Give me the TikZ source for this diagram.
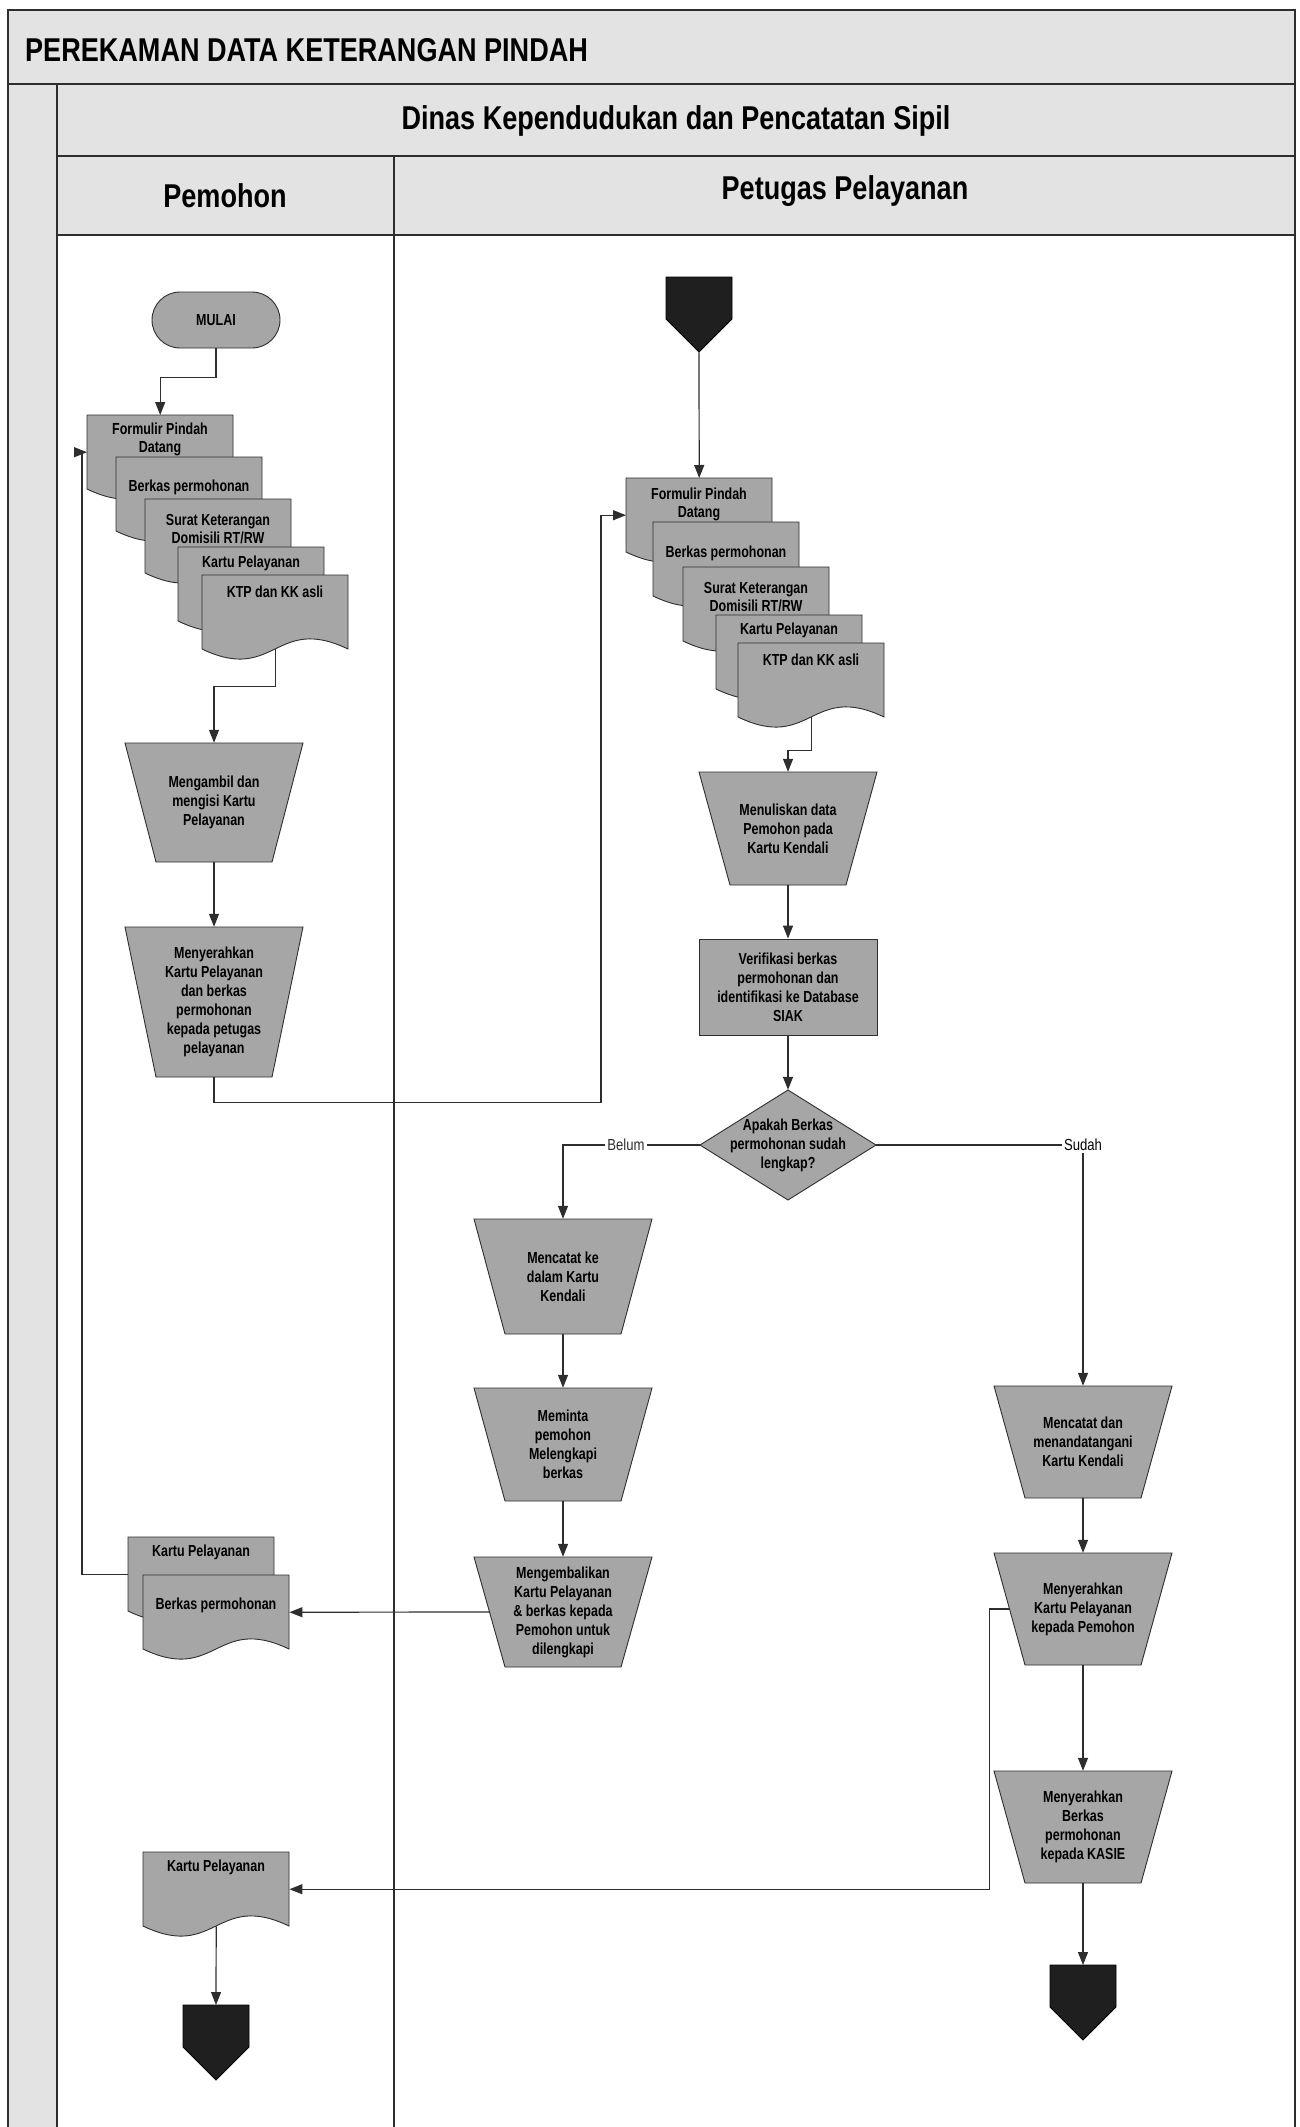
\documentclass[tikz,border=0pt]{standalone}
\usepackage{fontspec}
\setmainfont{Liberation Sans}[FakeStretch=0.82]
\newfontfamily\shpfont{Liberation Sans}[FakeStretch=0.78]
\usetikzlibrary{arrows.meta,calc}
\definecolor{band}{gray}{0.89}
\definecolor{shp}{gray}{0.65}
\definecolor{ln}{gray}{0.18}
\tikzset{
  frameline/.style={line width=2.5pt, draw=ln},
  shapefill/.style={fill=shp, draw=ln, line width=0.9pt},
  darkfill/.style={fill=black!88, draw=black, line width=0.9pt},
  box/.style={inner sep=0pt, align=center, font=\shpfont\fontsize{16}{19}\selectfont\bfseries, text=black},
  docbox/.style={inner sep=0pt, align=center, font=\shpfont\fontsize{16}{18}\selectfont\bfseries, text=black},
  conn/.style={draw=ln, line width=1.2pt},
  arr/.style={conn, -{Triangle[length=13pt,width=10pt]}, ln},
  lbl/.style={font=\fontsize{16}{19}\selectfont, fill=white, inner sep=2pt},
  hdr/.style={font=\fontsize{33}{38}\selectfont\bfseries, inner sep=0pt},
}
\newcommand\trapz[5]{%
  \pgfmathsetmacro\hh{#4-#3}%
  \pgfmathsetmacro\yc{(#3+#4)/2}%
  \path[shapefill] (#2-89,#3) -- (#2+89,#3) -- (#2+58,#4) -- (#2-58,#4) -- cycle;
  \node[box, minimum width=178pt, minimum height=\hh pt] (#1) at (#2,\yc) {#5};
}
\newcommand\docshp[5]{%
  \path[shapefill] (#2,#3) -- (#2+146,#3) -- (#2+146,#3+74) .. controls (#2+73,#3+39) and (#2+73,#3+109) .. (#2,#3+74) -- cycle;
  \node[box, anchor=north west, minimum width=146pt, minimum height=74pt] (#1) at (#2,#3) {};
  \node[docbox] (#1t) at (#2+73,#3+#4) {#5};
}
\newcommand\offpg[3]{%
  \path[darkfill] (#2-33,#3) -- (#2+33,#3) -- (#2+33,#3+42) -- (#2,#3+75) -- (#2-33,#3+42) -- cycle;
  \node[box, anchor=north, minimum width=66pt, minimum height=75pt] (#1) at (#2,#3) {};
}
\begin{document}
\begin{tikzpicture}[x=1pt,y=-1pt]
\useasboundingbox (0,0) rectangle (1300,2127);
% bands
\fill[band] (8,10) rectangle (1295,235);
\fill[band] (8,235) rectangle (57,2127);
\draw[frameline] (8,2127) -- (8,10) -- (1295,10) -- (1295,2127);
\draw[frameline] (8,84) -- (1295,84);
\draw[frameline] (57,156) -- (1295,156);
\draw[frameline] (57,235) -- (1295,235);
\draw[frameline] (57,84) -- (57,2127);
\draw[frameline] (394,156) -- (394,2127);
\node[hdr, anchor=west] (ttl) at (25,50) {PEREKAMAN DATA KETERANGAN PINDAH};
\node[hdr] (dinas) at (676,121) {Dinas Kependudukan dan Pencatatan Sipil};
\node[hdr] (lpem) at (225,196) {Pemohon};
\node[hdr] (lpet) at (845,191) {Petugas Pelayanan};

% ---- Pemohon lane
\node[box, shapefill, rounded corners=28pt, minimum width=128pt, minimum height=56pt] (mulai) at (216,320) {MULAI};
\docshp{ld1}{87}{415}{24}{Formulir Pindah\\Datang}
\docshp{ld2}{116}{457}{30}{Berkas permohonan}
\docshp{ld3}{145}{499}{30}{Surat Keterangan\\Domisili RT/RW}
\docshp{ld4}{178}{547}{16}{Kartu Pelayanan}
\docshp{ld5}{202}{575}{17}{KTP dan KK asli}
\trapz{t1}{214}{743}{862}{Mengambil dan\\mengisi Kartu\\Pelayanan}
\trapz{t2}{214}{927}{1077}{Menyerahkan\\Kartu Pelayanan\\dan berkas\\permohonan\\kepada petugas\\pelayanan}
\docshp{lb1}{128}{1537}{15}{Kartu Pelayanan}
\docshp{lb2}{143}{1575}{30}{Berkas permohonan}
\docshp{lb3}{143}{1852}{15}{Kartu Pelayanan}
\offpg{pg2}{216}{2005}

% ---- Petugas lane
\offpg{pg1}{699}{277}
\docshp{rd1}{626}{478}{26}{Formulir Pindah\\Datang}
\docshp{rd2}{653}{522}{31}{Berkas permohonan}
\docshp{rd3}{683}{567}{30}{Surat Keterangan\\Domisili RT/RW}
\docshp{rd4}{716}{615}{15}{Kartu Pelayanan}
\docshp{rd5}{738}{643}{17}{KTP dan KK asli}
\trapz{t3}{788}{772}{885}{Menuliskan data\\Pemohon pada\\Kartu Kendali}
\node[box, shapefill, minimum width=178pt, minimum height=96pt] (ver) at (788,987) {Verifikasi berkas\\permohonan dan\\identifikasi ke Database\\SIAK};
\path[shapefill] (788,1090) -- (876,1145) -- (788,1200) -- (700,1145) -- cycle;
\node[box, minimum width=176pt, minimum height=110pt] (dia) at (788,1145) {Apakah Berkas\\permohonan sudah\\lengkap?};
\trapz{t4}{563}{1219}{1334}{Mencatat ke\\dalam Kartu\\Kendali}
\trapz{t5}{563}{1388}{1501}{Meminta\\pemohon\\Melengkapi\\berkas}
\trapz{t6}{563}{1557}{1667}{Mengembalikan\\Kartu Pelayanan\\\& berkas kepada\\Pemohon untuk\\dilengkapi}
\node[lbl] (sudah) at (1083,1145) {Sudah};
\trapz{t7}{1083}{1386}{1498}{Mencatat dan\\menandatangani\\Kartu Kendali}
\trapz{t8}{1083}{1553}{1665}{Menyerahkan\\Kartu Pelayanan\\kepada Pemohon}
\trapz{t9}{1083}{1771}{1883}{Menyerahkan\\Berkas\\permohonan\\kepada KASIE}
\offpg{pg3}{1083}{1965}

% ---- connectors
\draw[arr] (mulai.south) -- ++(0,29) -| (ld1.north);
\draw[arr] (ld5.south) -- ++(0,37) -| (t1.north);
\draw[arr] (t1.south) -- (t2.north);
\draw[arr] (t2.south) -- ++(0,25) -| ($(rd1.west)+(-25,0)$) -- (rd1.west);
\draw[arr] (pg1.south) -- (rd1.north);
\draw[arr] (rd5.south) -- ++(0,33) -| (t3.north);
\draw[arr] (t3.south) -- (ver.north);
\draw[arr] (ver.south) -- (dia.north);
\draw[arr] (dia.west) -| node[lbl, pos=0.27] (belum) {Belum} (t4.north);
\draw[conn] (dia.east) -- (sudah.west);
\draw[arr] (sudah.south) -- (t7.north);
\draw[arr] (t4.south) -- (t5.north);
\draw[arr] (t5.south) -- (t6.north);
\draw[arr] ($(t6.west)+(15.5,0)$) -- (lb2.east);
\draw[arr] (t7.south) -- (t8.north);
\draw[arr] (t8.south) -- (t9.north);
\draw[arr] (t9.south) -- (pg3.north);
\draw[arr] ($(t8.west)+(15.5,0)$) -- ++(-20,0) |- (lb3.east);
\draw[arr] (lb3.south) -- (pg2.north);
\draw[arr] (lb1.west) -- ++(-46,0) |- (ld1.west);
\end{tikzpicture}
\end{document}
